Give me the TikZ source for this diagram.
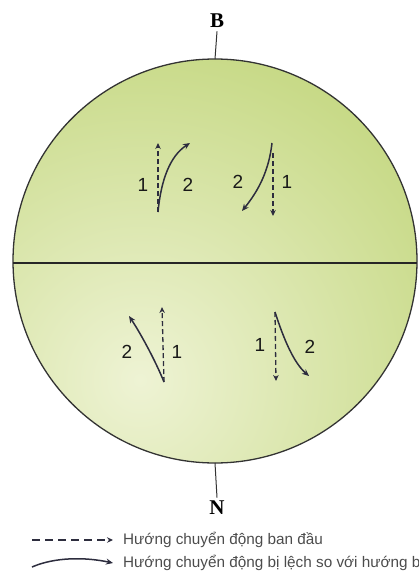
\documentclass[tikz,border=0pt]{standalone}
\usepackage{fontspec}
\setmainfont{Liberation Serif}
\setsansfont{Liberation Sans}
\usetikzlibrary{arrows.meta}
\definecolor{globe}{RGB}{188,210,112}
\definecolor{globelight}{RGB}{238,243,212}
\definecolor{arrowcol}{RGB}{45,45,62}
\tikzset{
  straightarr/.style={arrowcol, line width=1.3pt, dash pattern=on 5pt off 3pt, -{Stealth[length=6pt,width=5.5pt]}},
  bentarr/.style={arrowcol, line width=1.5pt, -{Stealth[length=7pt,width=6pt]}},
  num/.style={font=\sffamily\fontsize{19}{19}\selectfont, text=black!90},
  pole/.style={font=\bfseries\fontsize{21}{21}\selectfont},
  legtext/.style={anchor=west, inner sep=0pt, font=\sffamily\fontsize{15.3}{15.3}\selectfont, text=black!70}
}
\begin{document}
\begin{tikzpicture}[x=1pt,y=-1pt]
    \useasboundingbox (0,0) rectangle (419,575);
    \clip (0,0) rectangle (419,575);

    % globe
    \coordinate (O) at (215,261);
    \begin{scope}
        \clip (O) circle (202);
        \fill[globe] (O) circle (202);
        \shade[inner color=globelight, outer color=globe] (140,380) circle (440);
    \end{scope}
    \draw[black!80, line width=1.3pt] (O) circle (202);
    \coordinate (eqW) at (13,263);
    \coordinate (eqE) at (417,263);
    \draw[black!85, line width=1.8pt] (eqW) -- (eqE);

    % poles
    \node[pole] (B) at (217,21) {B};
    \coordinate (top) at (215,59);
    \draw[black!80, line width=1pt] (B.south) -- (top);
    \node[pole] (N) at (217,508) {N};
    \coordinate (bot) at (215,463);
    \draw[black!80, line width=1pt] (bot) -- (N.north);

    % northern hemisphere
    \coordinate (a0) at (158,212);
    \coordinate (a1) at (158,143);
    \coordinate (a2) at (190,143);
    \draw[straightarr] (a0) -- (a1);
    \draw[bentarr] (a0) .. controls (161,180) and (170,156) .. (a2);
    \node[num] (a1lbl) at (143,185) {1};
    \node[num] (a2lbl) at (188,185) {2};

    \coordinate (b0) at (272,143);
    \coordinate (b1) at (273,216);
    \coordinate (b2) at (242,211);
    \draw[straightarr] (273,153) -- (b1);
    \draw[bentarr] (b0) .. controls (269,170) and (259,190) .. (b2);
    \node[num] (b2lbl) at (238,182) {2};
    \node[num] (b1lbl) at (287,182) {1};

    % southern hemisphere
    \coordinate (c0) at (164,382);
    \coordinate (c1) at (162,307);
    \coordinate (c2) at (129,316);
    \draw[straightarr] (c0) -- (c1);
    \draw[bentarr] (c0) .. controls (156,362) and (141,334) .. (c2);
    \node[num] (c2lbl) at (127,352) {2};
    \node[num] (c1lbl) at (177,352) {1};

    \coordinate (d0) at (275,312);
    \coordinate (d1) at (276,381);
    \coordinate (d2) at (309,376);
    \draw[straightarr] (d0) -- (d1);
    \draw[bentarr] (d0) .. controls (284,340) and (294,363) .. (d2);
    \node[num] (d1lbl) at (260,345) {1};
    \node[num] (d2lbl) at (310,347) {2};

    % legend
    \coordinate (l1a) at (32,540);
    \coordinate (l1b) at (113,540);
    \draw[straightarr, dash pattern=on 8pt off 5pt] (l1a) -- (l1b);
    \node[legtext] (leg1) at (123,540) {Hướng chuyển động ban đầu};
    \coordinate (l2a) at (32,567);
    \coordinate (l2b) at (113,563);
    \draw[bentarr] (l2a) .. controls (55,557) and (85,557) .. (l2b);
    \node[legtext] (leg2) at (123,563) {Hướng chuyển động bị lệch so với hướng b};
\end{tikzpicture}
\end{document}
